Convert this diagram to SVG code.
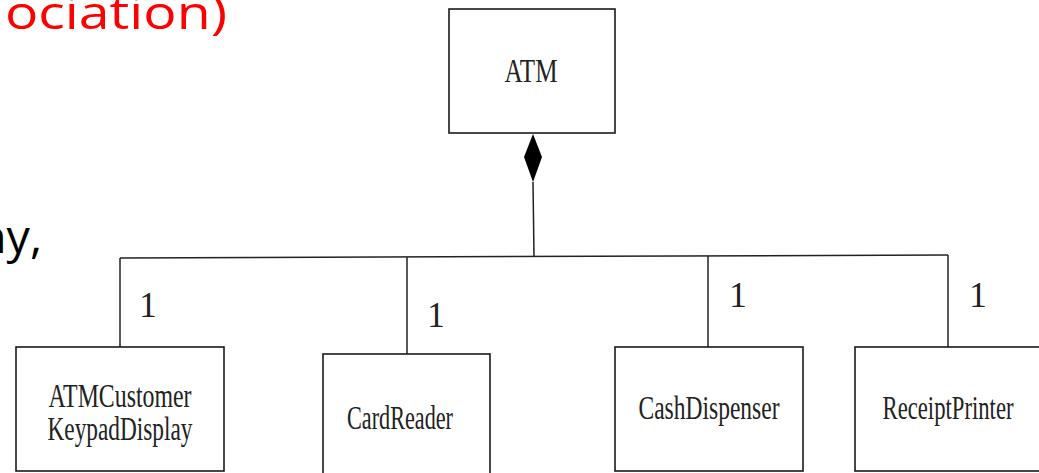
<svg xmlns="http://www.w3.org/2000/svg" width="1039" height="473" viewBox="0 0 1039 473">
<style>
.box{fill:#fff;stroke:#1a1a1a;stroke-width:1.6}
.lbl{font-family:"Liberation Serif","Times New Roman",serif;font-size:33px;fill:#222;text-anchor:middle}
.mult{font-family:"Liberation Serif","Times New Roman",serif;font-size:35px;fill:#222;text-anchor:middle}
.slide{font-family:"Open Sans","Noto Sans",sans-serif;font-size:45px}
.conn{stroke:#222;stroke-width:1.5;fill:none}
</style>
<rect width="1039" height="473" fill="#fff"/>
<text class="slide" x="5" y="29" fill="#ff0000" textLength="222" lengthAdjust="spacingAndGlyphs">ociation)</text>
<text class="slide" x="-22" y="253" fill="#000" textLength="64" lengthAdjust="spacingAndGlyphs">ny,</text>
<g id="connectors">
<polygon points="533,134 542,157 533,182 524,157" fill="#000"/>
<line class="conn" x1="533" y1="182" x2="534" y2="256"/>
<line class="conn" x1="120" y1="258" x2="948" y2="255"/>
<line class="conn" x1="120" y1="258" x2="120" y2="347"/>
<line class="conn" x1="407" y1="257" x2="407" y2="354"/>
<line class="conn" x1="708" y1="256" x2="708" y2="347"/>
<line class="conn" x1="948" y1="255" x2="948" y2="347"/>
<text class="mult" x="148" y="317">1</text>
<text class="mult" x="436" y="327">1</text>
<text class="mult" x="738" y="307">1</text>
<text class="mult" x="978" y="307">1</text>
</g>
<g id="atm">
<rect class="box" x="449" y="9" width="166" height="124"/>
<text class="lbl" x="531" y="82" font-size="34" textLength="53" lengthAdjust="spacingAndGlyphs">ATM</text>
</g>
<g id="keypad">
<rect class="box" x="16" y="347" width="208" height="124"/>
<text class="lbl" x="120" y="407" textLength="143" lengthAdjust="spacingAndGlyphs">ATMCustomer</text>
<text class="lbl" x="120" y="440" textLength="145" lengthAdjust="spacingAndGlyphs">KeypadDisplay</text>
</g>
<g id="cardreader">
<rect class="box" x="323" y="354" width="167" height="130"/>
<text class="lbl" x="400" y="429" textLength="106" lengthAdjust="spacingAndGlyphs">CardReader</text>
</g>
<g id="cashdispenser">
<rect class="box" x="615" y="347" width="188" height="124"/>
<text class="lbl" x="709" y="419" textLength="141" lengthAdjust="spacingAndGlyphs">CashDispenser</text>
</g>
<g id="receiptprinter">
<rect class="box" x="855" y="347" width="200" height="124"/>
<text class="lbl" x="948" y="419" textLength="131" lengthAdjust="spacingAndGlyphs">ReceiptPrinter</text>
</g>
</svg>
